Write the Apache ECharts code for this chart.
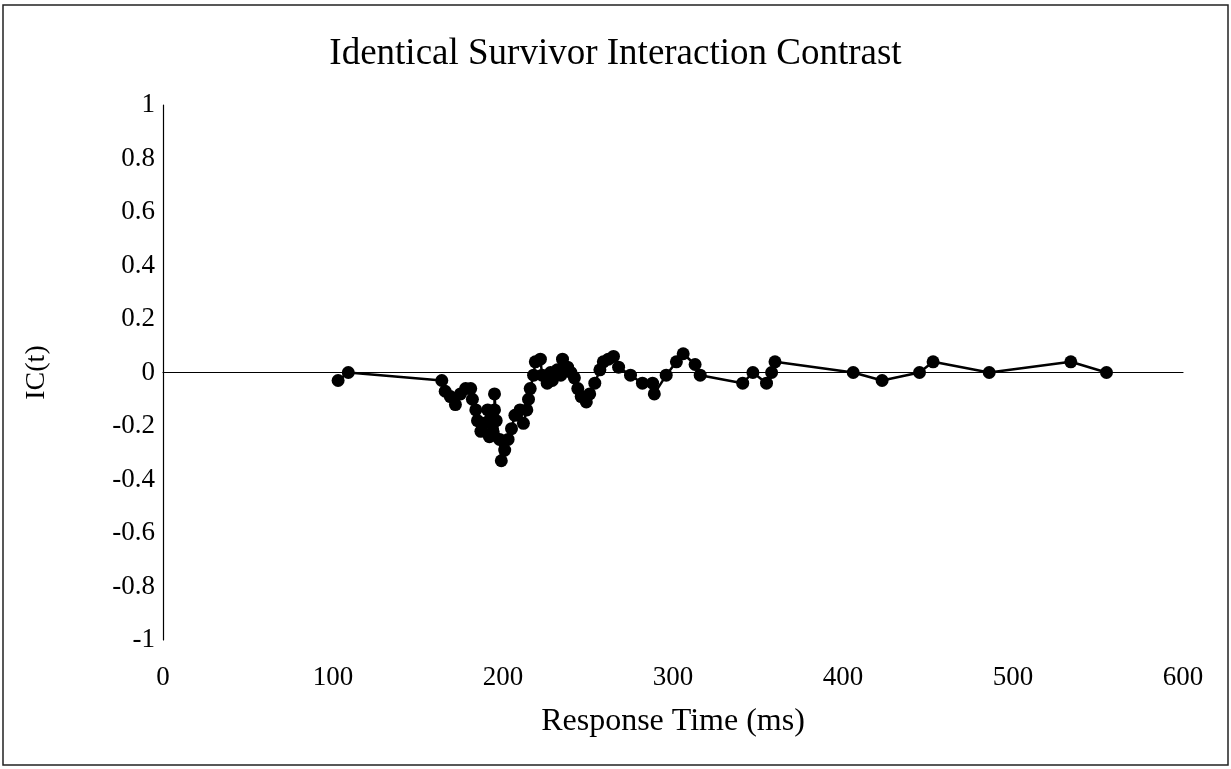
<!DOCTYPE html>
<html><head><meta charset="utf-8">
<script src="https://cdn.jsdelivr.net/npm/echarts@6/dist/echarts.min.js"></script>
<style>html,body{margin:0;padding:0;background:#fff}#c{width:1231px;height:769px}</style>
</head><body><div id="c"></div>
<script>
const titleText = 'Identical Survivor Interaction Contrast';
const xName = 'Response Time (ms)';
const yName = 'IC(t)';
const rt = [103,109,164,166,169,172,175,178,181,182,184,185,187,189,191,192,192,194,195,195,196,198,199,201,203,205,207,210,212,214,215,216,218,219,222,223,226,228,229,232,234,235,238,240,242,244,246,249,251,254,257,259,262,265,268,275,282,288,289,296,302,306,313,316,341,347,355,358,360,406,423,445,453,486,534,555];
const ic = [-0.03,0.00,-0.03,-0.07,-0.09,-0.12,-0.08,-0.06,-0.06,-0.10,-0.14,-0.18,-0.22,-0.19,-0.14,-0.18,-0.24,-0.22,-0.14,-0.08,-0.18,-0.25,-0.33,-0.29,-0.25,-0.21,-0.16,-0.14,-0.19,-0.14,-0.10,-0.06,-0.01,0.04,0.05,-0.01,-0.04,0.00,-0.03,0.01,-0.01,0.05,0.02,0.00,-0.02,-0.06,-0.09,-0.11,-0.08,-0.04,0.01,0.04,0.05,0.06,0.02,-0.01,-0.04,-0.04,-0.08,-0.01,0.04,0.07,0.03,-0.01,-0.04,0.00,-0.04,0.00,0.04,0.00,-0.03,0.00,0.04,0.00,0.04,0.00];
const xTicks = [0,100,200,300,400,500,600];
const yTicks = [-1,-0.8,-0.6,-0.4,-0.2,0,0.2,0.4,0.6,0.8,1];

const font = 'Liberation Serif';
const chart = echarts.init(document.getElementById('c'), null, {renderer:'canvas'});
chart.setOption({
  animation:false,
  backgroundColor:'#fff',
  title:{text:titleText,left:'center',top:31,textStyle:{fontFamily:font,fontSize:37,fontWeight:'normal',color:'#000'}},
  graphic:[{type:'rect',shape:{x:3,y:5,width:1225,height:760},style:{fill:'none',stroke:'#222',lineWidth:1.5}}],
  grid:{left:163,right:48,top:105,bottom:129},
  xAxis:[
    {type:'value',min:xTicks[0],max:xTicks[xTicks.length-1],interval:100,
     axisLine:{show:true,onZero:true,lineStyle:{color:'#000',width:1.2}},axisTick:{show:false},axisLabel:{show:false},splitLine:{show:false}},
    {type:'value',position:'bottom',min:xTicks[0],max:xTicks[xTicks.length-1],interval:100,
     axisLine:{show:false,onZero:false},axisTick:{show:false},splitLine:{show:false},
     axisLabel:{margin:24,fontFamily:font,fontSize:27,color:'#000'},
     name:xName,nameLocation:'middle',nameGap:66,nameTextStyle:{fontFamily:font,fontSize:32,color:'#000'}}
  ],
  yAxis:{type:'value',min:yTicks[0],max:yTicks[yTicks.length-1],interval:0.2,
    axisLine:{show:true,onZero:false,lineStyle:{color:'#000',width:1.2}},axisTick:{show:false},splitLine:{show:false},
    axisLabel:{margin:8,fontFamily:font,fontSize:27,color:'#000',formatter:v=>String(Math.round(v*10)/10)},
    name:yName,nameLocation:'middle',nameGap:112,nameTextStyle:{fontFamily:font,fontSize:28,color:'#000'}},
  series:[{type:'line',xAxisIndex:0,data:rt.map((t,i)=>[t,ic[i]]),symbol:'circle',symbolSize:13,
    lineStyle:{color:'#000',width:2.5},itemStyle:{color:'#000'}}]
});
</script></body></html>
